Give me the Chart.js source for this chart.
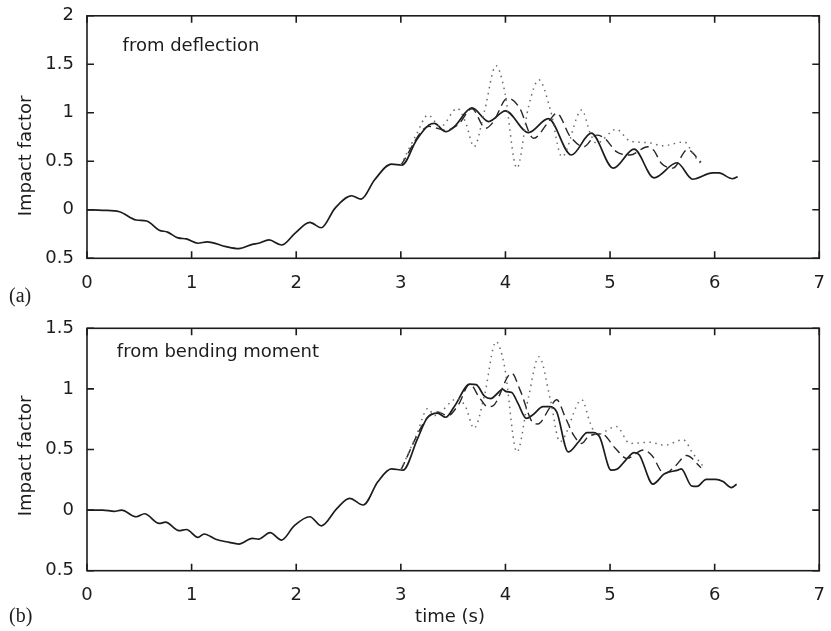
<!DOCTYPE html>
<html>
<head>
<meta charset="utf-8">
<script src="https://cdn.jsdelivr.net/npm/chart.js@4.4.1/dist/chart.umd.min.js"></script>
<style>
  body { margin: 0; background: #fff; }
  .box { position: absolute; left: 0; width: 831px; }
</style>
</head>
<body>
<div class="box" style="top:0;height:310px"><canvas id="chartA"></canvas></div>
<div class="box" style="top:310px;height:321px"><canvas id="chartB"></canvas></div>
<script>
// (a) from deflection
const timeA = [0, 0.15, 0.31, 0.47, 0.57, 0.69, 0.77, 0.87, 0.95, 1.06, 1.15, 1.33, 1.45, 1.58, 1.64, 1.74, 1.86, 1.99, 2.13, 2.24, 2.37, 2.53, 2.62, 2.75, 2.91, 3.01, 3.15, 3.27, 3.32, 3.43, 3.51, 3.68, 3.84, 4.0, 4.22, 4.41, 4.63, 4.82, 5.03, 5.23, 5.42, 5.64, 5.79, 5.98, 6.04, 6.17, 6.22];
const solidA = [0, -0.005, -0.02, -0.105, -0.115, -0.21, -0.23, -0.29, -0.30, -0.345, -0.33, -0.38, -0.40, -0.356, -0.345, -0.31, -0.363, -0.24, -0.13, -0.185, 0.015, 0.145, 0.11, 0.31, 0.47, 0.46, 0.72, 0.875, 0.89, 0.805, 0.857, 1.05, 0.91, 1.02, 0.795, 0.94, 0.565, 0.79, 0.43, 0.625, 0.33, 0.485, 0.315, 0.38, 0.38, 0.32, 0.34];
const timeDashA = [3.0, 3.27, 3.43, 3.55, 3.68, 3.81, 3.88, 4.02, 4.13, 4.27, 4.40, 4.49, 4.62, 4.75, 4.87, 4.95, 5.06, 5.19, 5.36, 5.42, 5.49, 5.60, 5.74, 5.87];
const dashA = [0.46, 0.86, 0.82, 0.88, 1.04, 0.84, 0.90, 1.15, 1.06, 0.737, 0.89, 0.995, 0.754, 0.65, 0.77, 0.737, 0.60, 0.565, 0.65, 0.61, 0.48, 0.43, 0.62, 0.49];
const timeDotA = [3.0, 3.15, 3.26, 3.38, 3.54, 3.62, 3.70, 3.80, 3.91, 3.99, 4.11, 4.22, 4.32, 4.43, 4.54, 4.73, 4.81, 4.87, 5.06, 5.19, 5.38, 5.50, 5.71, 5.80, 5.88];
const dotA = [0.46, 0.78, 0.977, 0.857, 1.046, 0.90, 0.65, 1.02, 1.486, 1.235, 0.43, 1.06, 1.34, 1.03, 0.547, 1.03, 0.79, 0.686, 0.83, 0.71, 0.69, 0.66, 0.70, 0.565, 0.46];

// (b) from bending moment
const timeB = [0, 0.15, 0.26, 0.33, 0.47, 0.55, 0.69, 0.75, 0.88, 0.95, 1.06, 1.12, 1.23, 1.36, 1.45, 1.58, 1.64, 1.75, 1.86, 1.98, 2.13, 2.24, 2.39, 2.51, 2.64, 2.78, 2.91, 3.02, 3.16, 3.25, 3.35, 3.43, 3.51, 3.66, 3.72, 3.80, 3.86, 3.92, 3.97, 4.01, 4.06, 4.12, 4.20, 4.26, 4.36, 4.42, 4.49, 4.60, 4.70, 4.78, 4.84, 4.90, 5.01, 5.07, 5.15, 5.23, 5.28, 5.41, 5.52, 5.65, 5.68, 5.78, 5.83, 5.92, 6.01, 6.08, 6.16, 6.21];
const solidB = [0, 0, -0.01, 0.0, -0.055, -0.03, -0.11, -0.10, -0.17, -0.16, -0.225, -0.197, -0.24, -0.266, -0.28, -0.233, -0.24, -0.186, -0.247, -0.13, -0.055, -0.13, 0.015, 0.097, 0.042, 0.234, 0.34, 0.33, 0.59, 0.757, 0.80, 0.766, 0.853, 1.04, 1.035, 0.94, 0.92, 0.96, 0.997, 0.977, 0.97, 0.88, 0.757, 0.785, 0.853, 0.853, 0.81, 0.48, 0.564, 0.64, 0.64, 0.605, 0.33, 0.34, 0.413, 0.474, 0.455, 0.215, 0.30, 0.33, 0.34, 0.199, 0.195, 0.254, 0.254, 0.235, 0.185, 0.213];
const timeDashB = [3.0, 3.25, 3.35, 3.45, 3.55, 3.66, 3.75, 3.83, 3.88, 4.06, 4.14, 4.27, 4.31, 4.43, 4.49, 4.57, 4.65, 4.73, 4.79, 4.92, 5.05, 5.16, 5.32, 5.40, 5.52, 5.62, 5.73, 5.87];
const dashB = [0.33, 0.76, 0.81, 0.78, 0.87, 1.04, 0.93, 0.853, 0.86, 1.13, 0.99, 0.716, 0.71, 0.853, 0.91, 0.77, 0.62, 0.55, 0.605, 0.628, 0.51, 0.427, 0.496, 0.45, 0.30, 0.36, 0.45, 0.35];
const timeDotB = [3.0, 3.15, 3.26, 3.32, 3.54, 3.62, 3.70, 3.80, 3.91, 3.99, 4.11, 4.22, 4.32, 4.43, 4.52, 4.73, 4.81, 4.87, 5.06, 5.19, 5.38, 5.52, 5.70, 5.79, 5.90];
const dotB = [0.33, 0.62, 0.84, 0.78, 0.92, 0.85, 0.675, 0.95, 1.39, 1.19, 0.48, 0.93, 1.266, 0.91, 0.564, 0.91, 0.72, 0.62, 0.69, 0.55, 0.56, 0.535, 0.58, 0.47, 0.35];

const xTicks = [0, 1, 2, 3, 4, 5, 6, 7];

const FONT = 'DejaVu Sans';
const INK = '#1c1c1c';

function pts(xs, ys) {
  return xs.map((x, i) => ({ x: x, y: ys[i] }));
}

// frame with inward ticks (matlab style) + free text
const framePlugin = {
  id: 'frame',
  afterDraw(chart, args, opts) {
    const { ctx, chartArea: a, scales } = chart;
    ctx.save();
    ctx.strokeStyle = INK;
    ctx.lineWidth = 1.6;
    ctx.strokeRect(a.left, a.top, a.right - a.left, a.bottom - a.top);
    ctx.beginPath();
    scales.x.ticks.forEach(t => {
      const px = scales.x.getPixelForValue(t.value);
      ctx.moveTo(px, a.bottom); ctx.lineTo(px, a.bottom - 7);
      ctx.moveTo(px, a.top); ctx.lineTo(px, a.top + 7);
    });
    scales.y.ticks.forEach(t => {
      const py = scales.y.getPixelForValue(t.value);
      ctx.moveTo(a.left, py); ctx.lineTo(a.left + 7, py);
      ctx.moveTo(a.right, py); ctx.lineTo(a.right - 7, py);
    });
    ctx.stroke();

    ctx.fillStyle = INK;
    (opts.texts || []).forEach(t => {
      let x = t.x, y = t.y;
      if (t.data) {
        x = scales.x.getPixelForValue(t.x);
        y = scales.y.getPixelForValue(t.y);
      }
      ctx.save();
      ctx.font = t.font;
      ctx.textAlign = t.align || 'left';
      ctx.textBaseline = 'middle';
      ctx.translate(x, y);
      if (t.rot) ctx.rotate(t.rot);
      ctx.fillText(t.text, 0, 0);
      ctx.restore();
    });
    ctx.restore();
  }
};

function makeChart(id, solid, dash, dot, yMin, yMax, xHeight, topPad, texts) {
  const ctx = document.getElementById(id).getContext('2d');
  return new Chart(ctx, {
    type: 'line',
    data: {
      datasets: [
        { data: dot, borderColor: '#6a6a6a', borderWidth: 1.5, borderDash: [1.5, 4.5] },
        { data: dash, borderColor: '#262626', borderWidth: 1.4, borderDash: [9, 5] },
        { data: solid, borderColor: INK, borderWidth: 1.7 }
      ]
    },
    options: {
      responsive: true,
      maintainAspectRatio: false,
      animation: false,
      layout: { padding: { left: 0, right: 7, top: topPad, bottom: 0 } },
      elements: {
        point: { radius: 0 },
        line: { cubicInterpolationMode: 'monotone', fill: false }
      },
      plugins: {
        legend: { display: false },
        tooltip: { enabled: false },
        frame: { texts: texts }
      },
      scales: {
        x: {
          type: 'linear', min: 0, max: 7,
          afterBuildTicks: s => { s.ticks = xTicks.map(v => ({ value: v })); },
          afterFit: s => { s.height = xHeight; },
          grid: { display: false },
          border: { display: false },
          ticks: { color: INK, padding: 6, font: { family: FONT, size: 18 } }
        },
        y: {
          type: 'linear', min: yMin, max: yMax,
          afterFit: s => { s.width = 87; },
          grid: { display: false },
          border: { display: false },
          ticks: {
            stepSize: 0.5, color: INK, padding: 5,
            font: { family: FONT, size: 18 },
            callback: v => Math.abs(v)   // the source plot lost its minus signs
          }
        }
      }
    },
    plugins: [framePlugin]
  });
}

makeChart('chartA', pts(timeA, solidA), pts(timeDashA, dashA), pts(timeDotA, dotA),
  -0.5, 2, 51.7, 15.7, [
    { text: 'from deflection', x: 0.34, y: 1.69, data: true, font: '18px ' + FONT },
    { text: 'Impact factor', x: 26, y: 156, rot: -Math.PI / 2, align: 'center', font: '18px ' + FONT },
    { text: '(a)', x: 9, y: 297, font: '20px "Liberation Serif"' }
  ]);

makeChart('chartB', pts(timeB, solidB), pts(timeDashB, dashB), pts(timeDotB, dotB),
  -0.5, 1.5, 60.3, 18.3, [
    { text: 'from bending moment', x: 0.285, y: 1.30, data: true, font: '18px ' + FONT },
    { text: 'Impact factor', x: 26, y: 146, rot: -Math.PI / 2, align: 'center', font: '18px ' + FONT },
    { text: 'time (s)', x: 450, y: 307, align: 'center', font: '18px ' + FONT },
    { text: '(b)', x: 9, y: 307, font: '20px "Liberation Serif"' }
  ]);
</script>
</body>
</html>
